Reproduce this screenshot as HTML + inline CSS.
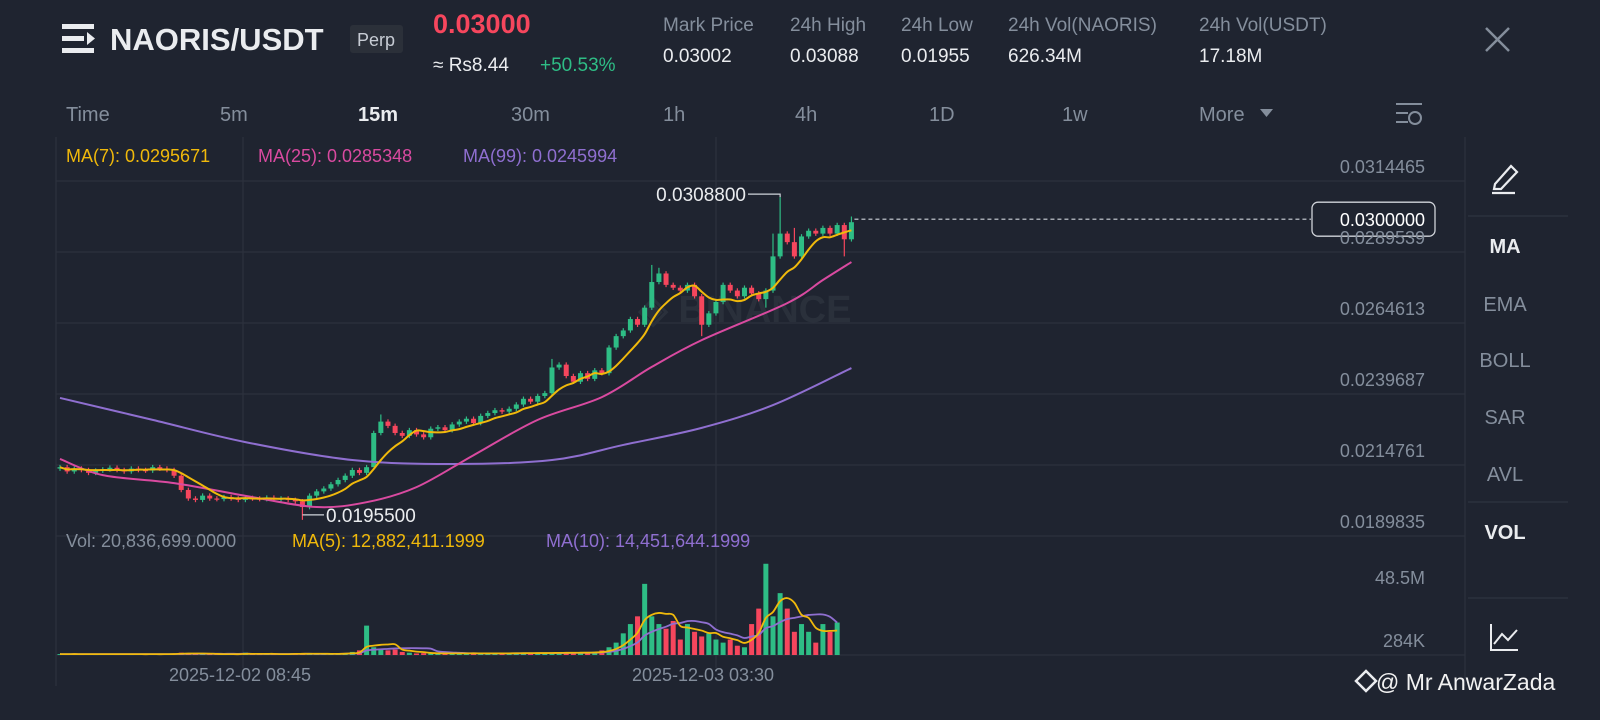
<!DOCTYPE html>
<html><head><meta charset="utf-8"><style>
html,body{margin:0;padding:0;background:#1f2430;width:1600px;height:720px;overflow:hidden}
svg{display:block;font-family:"Liberation Sans",sans-serif}
</style></head><body>
<svg id="c" width="1600" height="720" viewBox="0 0 1600 720" xmlns="http://www.w3.org/2000/svg">
<rect x="0" y="0" width="1600" height="720" fill="#1f2430"/>
<g fill="#eaecef">
<rect x="62" y="24" width="32" height="5"/><rect x="62" y="36" width="22" height="5"/><rect x="62" y="48" width="32" height="5"/><path d="M87 32 L95 38.5 L87 45 Z"/>
</g>
<text x="110" y="50" font-size="31" font-weight="bold" fill="#eaecef">NAORIS/USDT</text>
<rect x="350" y="25" width="53" height="28" rx="3" fill="#2b3039"/>
<text x="376" y="46" font-size="18" fill="#c7ccd4" text-anchor="middle">Perp</text>
<text x="433" y="33" font-size="27" font-weight="bold" fill="#f6465d">0.03000</text>
<text x="433" y="71" font-size="19" fill="#eaecef">≈ Rs8.44</text>
<text x="540" y="71" font-size="19" fill="#2ebd85">+50.53%</text>
<g font-size="19">
<text x="663" y="31" fill="#848e9c">Mark Price</text><text x="663" y="62" fill="#eaecef">0.03002</text>
<text x="790" y="31" fill="#848e9c">24h High</text><text x="790" y="62" fill="#eaecef">0.03088</text>
<text x="901" y="31" fill="#848e9c">24h Low</text><text x="901" y="62" fill="#eaecef">0.01955</text>
<text x="1008" y="31" fill="#848e9c">24h Vol(NAORIS)</text><text x="1008" y="62" fill="#eaecef">626.34M</text>
<text x="1199" y="31" fill="#848e9c">24h Vol(USDT)</text><text x="1199" y="62" fill="#eaecef">17.18M</text>
</g>
<g stroke="#848e9c" stroke-width="2.5"><line x1="1486" y1="28" x2="1509" y2="51"/><line x1="1509" y1="28" x2="1486" y2="51"/></g>
<g font-size="20" fill="#848e9c">
<text x="66" y="121">Time</text>
<text x="220" y="121">5m</text>
<text x="358" y="121" fill="#eaecef" font-weight="bold">15m</text>
<text x="511" y="121">30m</text>
<text x="663" y="121">1h</text>
<text x="795" y="121">4h</text>
<text x="929" y="121">1D</text>
<text x="1062" y="121">1w</text>
<text x="1199" y="121">More</text>
<path d="M1260 109 L1273 109 L1266.5 117 Z" fill="#848e9c"/>
</g>
<g stroke="#848e9c" stroke-width="2" fill="none">
<line x1="1396" y1="104" x2="1422" y2="104"/><line x1="1396" y1="113" x2="1408" y2="113"/><line x1="1396" y1="122" x2="1408" y2="122"/><circle cx="1415" cy="118" r="6"/>
</g>
<g id="grid" stroke="#2c313d" stroke-width="1.3"></g>
<text x="745" y="322" font-size="38" font-weight="bold" fill="#2a303b" text-anchor="middle">◈ BINANCE</text>
<g id="plot"></g>
<g font-size="18">
<text x="66" y="162" fill="#f0b90b">MA(7): 0.0295671</text>
<text x="258" y="162" fill="#d94aa0">MA(25): 0.0285348</text>
<text x="463" y="162" fill="#8f6fd0">MA(99): 0.0245994</text>
</g>
<g font-size="18">
<text x="66" y="547" fill="#848e9c">Vol: 20,836,699.0000</text>
<text x="292" y="547" fill="#f0b90b">MA(5): 12,882,411.1999</text>
<text x="546" y="547" fill="#8f6fd0">MA(10): 14,451,644.1999</text>
</g>
<g id="yaxis" font-size="18" fill="#848e9c" text-anchor="end"></g>
<g font-size="18" fill="#848e9c" text-anchor="middle">
<text x="240" y="681">2025-12-02 08:45</text>
<text x="703" y="681">2025-12-03 03:30</text>
</g>
<g>
<g stroke="#eaecef" stroke-width="2.2" fill="none"><path d="M1495 184 L1511 166 L1517 172 L1501 189 L1494 189 Z"/><line x1="1492" y1="193" x2="1515" y2="193"/></g>
<line x1="1468" y1="216" x2="1568" y2="216" stroke="#2c313d" stroke-width="1.5"/>
<g font-size="20" text-anchor="middle" fill="#848e9c">
<text x="1505" y="253" fill="#eaecef" font-weight="bold">MA</text>
<text x="1505" y="311">EMA</text>
<text x="1505" y="367">BOLL</text>
<text x="1505" y="424">SAR</text>
<text x="1505" y="481">AVL</text>
<text x="1505" y="539" fill="#eaecef" font-weight="bold">VOL</text>
</g>
<line x1="1468" y1="502" x2="1568" y2="502" stroke="#2c313d" stroke-width="1.5"/>
<line x1="1468" y1="598" x2="1568" y2="598" stroke="#2c313d" stroke-width="1.5"/>
<g stroke="#eaecef" stroke-width="2" fill="none"><path d="M1491 624 L1491 650 L1518 650"/><path d="M1494 644 L1502 634 L1508 640 L1517 630"/></g>
</g>
<g>
<path d="M1356 681 L1366 671 L1376 681 L1366 691 Z" fill="none" stroke="#eaecef" stroke-width="2.5"/>
<text x="1376" y="690" font-size="23" fill="#f2f2f2">@ Mr AnwarZada</text>
</g>
</svg>
<script>
const closes=[.02140,.02125,.02135,.02130,.02120,.02128,.02132,.02138,.02130,.02125,.02135,.02130,.02128,.02140,.02135,.02130,
.02110,.02060,.02030,.02025,.02040,
.02030,.02028,.02035,.02030,.02025,.02032,.02030,.02028,.02033,.02027,.02030,.02025,.02020,.02000,
.02040,.02055,.02065,.02080,.02095,.02110,.02130,.02120,.02140,
.02260,.02300,.02285,.02260,.02250,.02270,.02255,.02245,.02275,.02280,.02270,.02290,
.02300,.02310,.02295,.02320,.02330,.02340,.02335,
.02345,.02360,.02380,.02370,.02390,.02400,
.02490,.02500,
.02460,.02440,.02470,.02450,.02480,.02470,
.02560,.02600,.02620,.02660,.02640,.02700,
.02790,.02820,.02780,
.02770,.02760,.02780,.02740,.02640,
.02680,.02720,.02780,.02760,.02740,.02770,.02750,.02730,.02760,
.02880,.02960,.02930,.02880,
.02950,.02970,.02960,.02980,.02960,.02990,.02940,.03000];
const firstOpen=0.02135;
const highOverrides={45:0.02325,69:0.02520,83:0.02850,84:0.02840,100:0.02960,101:0.03088,103:0.02980,111:0.03020};
const lowOverrides={34:0.01955,44:0.02150,90:0.02600,99:0.02700,110:0.02880};
const volumes=[.6,.5,.7,.5,.6,.5,.6,.7,.5,.6,.5,.6,.5,.6,.5,.6,.8,1.5,1.2,.7,.6,.5,.6,.5,.6,.5,1.5,.6,.5,.6,.5,.6,.7,1.2,.8,
.7,.6,.8,.7,.9,1.2,2,3,19,5,4,3,3.5,2,1.5,1,1.2,1,.9,1.1,1,1.2,1,1.1,1,.9,1.2,1,
1.2,1.3,1.1,1.4,1.2,1.3,1.5,1.4,1.6,1.5,1.4,1.6,
2,3,5,8,14,20,25,46,25,20,17,22,10,20,15,12,14,10,8,10,6,5,20,30,59,25,40,30,15,20,15,8,20,15,21];
const ma25Idx=[0,6,16,27,36,43,50,58,67,76,83,90,102,107,111];
const ma25Val=[.02169,.02112,.02084,.02035,.02000,.02017,.02070,.02182,.02306,.02386,.02492,.02586,.02716,.02797,.02860];
const ma99Idx=[0,13,26,41,55,69,79,90,100,111];
const ma99Val=[.02383,.02306,.02228,.02165,.02151,.02165,.02218,.02278,.02358,.02488];
const priceTicks=[0.0314465,0.0289539,0.0264613,0.0239687,0.0214761,0.0189835];
const volTicks=[["48.5M",48.5],["284K",0.284]];

const NS="http://www.w3.org/2000/svg";
const pTop=priceTicks[0],pStep=priceTicks[0]-priceTicks[1],yTop=181,rowH=71;
const yP=p=>yTop+(pTop-p)/pStep*rowH;
const xI=i=>60+i*7.13;
const volBase=655,volPx=75;
const yV=v=>volBase-v/48.5*volPx;
function mk(tag,attrs,parent){const e=document.createElementNS(NS,tag);for(const k in attrs)e.setAttribute(k,attrs[k]);parent.appendChild(e);return e;}
const grid=document.getElementById('grid'),plot=document.getElementById('plot'),yaxis=document.getElementById('yaxis');
// grid
priceTicks.forEach((p,k)=>{const y=yTop+k*rowH;const l=mk('line',{x1:56,x2:1465,y1:y,y2:y},grid);


const t=mk('text',{x:1425,y:y-8},yaxis);t.textContent=p.toFixed(7);

});
[volBase].forEach(y=>{const l=mk('line',{x1:56,x2:1465,y1:y,y2:y},grid);

});
[56,243,716,1465].forEach(x=>{const l=mk('line',{x1:x,x2:x,y1:137,y2:x==56||x==1465?686:668},grid);

});
volTicks.forEach(([s,v])=>{const t=mk('text',{x:1425,y:v>1?584:647},yaxis);t.textContent=s;

});
// candles
const opens=closes.map((c,i)=>i==0?firstOpen:closes[i-1]);
const UP="#2ebd85",DN="#f6465d";
closes.forEach((c,i)=>{const o=opens[i];const up=c>=o;const col=up?UP:DN;
const hi=highOverrides[i]!==undefined?highOverrides[i]:Math.max(o,c)+0.00008;
const lo=lowOverrides[i]!==undefined?lowOverrides[i]:Math.min(o,c)-0.00008;
const x=xI(i);
const w=mk('line',{x1:x,x2:x,y1:yP(hi),y2:yP(lo),stroke:col,'stroke-width':1.2},plot);


const top=yP(Math.max(o,c)),bot=yP(Math.min(o,c));
const b=mk('rect',{x:x-2.5,y:top,width:5,height:Math.max(1.2,bot-top),fill:col},plot);


const vb=mk('rect',{x:x-2.5,y:yV(volumes[i]),width:5,height:Math.max(0.8,volBase-yV(volumes[i])),fill:col},plot);


});
function smooth(pts){let d=`M${pts[0][0]},${pts[0][1]}`;for(let i=0;i<pts.length-1;i++){const p0=pts[i-1]||pts[i],p1=pts[i],p2=pts[i+1],p3=pts[i+2]||p2;
d+=` C${p1[0]+(p2[0]-p0[0])/6},${p1[1]+(p2[1]-p0[1])/6} ${p2[0]-(p3[0]-p1[0])/6},${p2[1]-(p3[1]-p1[1])/6} ${p2[0]},${p2[1]}`;}return d;}
function ma(arr,n){return arr.map((v,i)=>{const s=arr.slice(Math.max(0,i-n+1),i+1);return s.reduce((a,b)=>a+b,0)/s.length;});}
const ma99=mk('path',{d:smooth(ma99Idx.map((k,j)=>[xI(k),yP(ma99Val[j])])),fill:'none',stroke:'#8f6fd0','stroke-width':2},plot);


const ma25=mk('path',{d:smooth(ma25Idx.map((k,j)=>[xI(k),yP(ma25Val[j])])),fill:'none',stroke:'#d94aa0','stroke-width':2},plot);


const m7=ma(closes,7);
const ma7=mk('path',{d:smooth(m7.map((v,i)=>[xI(i),yP(v)])),fill:'none',stroke:'#f0b90b','stroke-width':2},plot);


const v5=ma(volumes,5),v10=ma(volumes,10);
const vm10=mk('path',{d:smooth(v10.map((v,i)=>[xI(i),yV(v)])),fill:'none',stroke:'#8f6fd0','stroke-width':1.8},plot);


const vm5=mk('path',{d:smooth(v5.map((v,i)=>[xI(i),yV(v)])),fill:'none',stroke:'#f0b90b','stroke-width':1.8},plot);


// high / low markers
let hiI=0,loI=0,hiV=-1,loV=9;
closes.forEach((c,i)=>{const h=highOverrides[i]!==undefined?highOverrides[i]:0;const l=lowOverrides[i]!==undefined?lowOverrides[i]:9;if(h>hiV){hiV=h;hiI=i;}if(l<loV){loV=l;loI=i;}});
const hy=yP(hiV)-3,hx=xI(hiI);
const hl=mk('path',{d:`M${hx},${yP(hiV)} L${hx},${hy} L748,${hy}`,fill:'none',stroke:'#cfd3da','stroke-width':1.2},plot);


const ht=mk('text',{x:746,y:hy+7,'font-size':19,fill:'#eaecef','text-anchor':'end'},plot);ht.textContent=hiV.toFixed(7);


const ly=yP(loV)-5,lx=xI(loI);
const ll=mk('line',{x1:lx,x2:324,y1:ly,y2:ly,stroke:'#cfd3da','stroke-width':1.2},plot);


const lt=mk('text',{x:326,y:ly+7,'font-size':19,fill:'#eaecef'},plot);lt.textContent=loV.toFixed(7);


// current price line
const last=closes[closes.length-1],cy=yP(last)-3;
const cl=mk('line',{x1:xI(closes.length-1)+3,x2:1311,y1:cy,y2:cy,stroke:'#cfd3da','stroke-width':1.2,'stroke-dasharray':'4 3'},plot);


const cb=mk('rect',{x:1312,y:cy-17,width:123,height:34,rx:6,fill:'#1f2430',stroke:'#d0d4da','stroke-width':1.3},plot);


const ct=mk('text',{x:1425,y:cy+7,'font-size':18,fill:'#ffffff','text-anchor':'end'},plot);ct.textContent=last.toFixed(7);


</script>
</body></html>
